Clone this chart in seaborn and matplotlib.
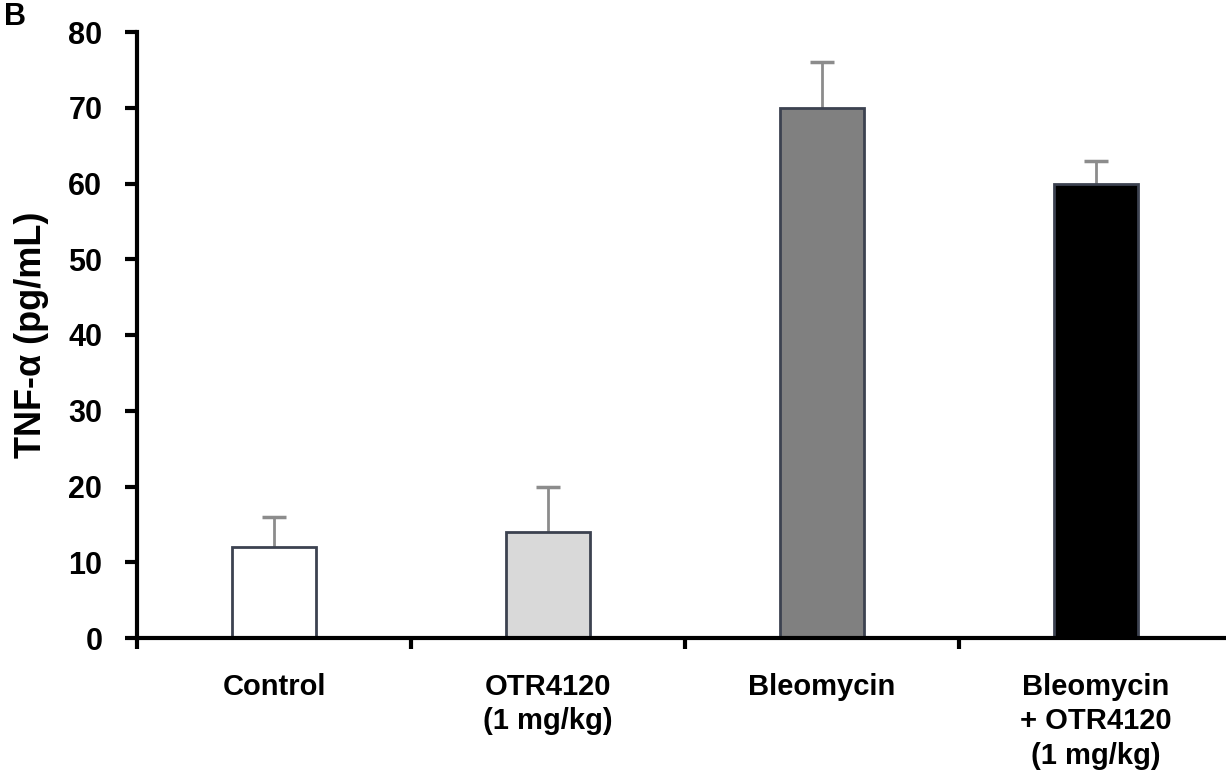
import numpy as np
import pandas as pd
import seaborn as sns
import matplotlib.pyplot as plt
from matplotlib.ticker import FixedLocator

# dados
grupos = ['Control', 'OTR4120\n(1 mg/kg)', 'Bleomycin', 'Bleomycin\n+ OTR4120\n(1 mg/kg)']
medias = [12, 14, 70, 60]
erros = [4, 6, 6, 3]
cores = ['#ffffff', '#d9d9d9', '#808080', '#000000']

sns.set_style('white')
plt.rcParams['font.family'] = ['Liberation Sans', 'DejaVu Sans']
plt.rcParams['font.weight'] = 'bold'
plt.rcParams['text.color'] = 'black'
plt.rcParams['xtick.color'] = 'black'
plt.rcParams['ytick.color'] = 'black'
plt.rcParams['axes.labelcolor'] = 'black'

df = pd.DataFrame({'grupo': grupos, 'tnf': medias})

fig = plt.figure(figsize=(12.26, 7.79), dpi=100)
ax = fig.add_axes([137 / 1226, 1 - 638 / 779, 1096 / 1226, 606 / 779])

sns.barplot(data=df, x='grupo', y='tnf', hue='grupo', palette=cores,
            width=0.31, edgecolor='#3c4250', linewidth=2, legend=False, ax=ax, zorder=2)

# barras de erro só para cima
x = np.arange(len(grupos))
topos = np.array(medias) + np.array(erros)
ax.vlines(x, medias, topos, color='#8c8c8c', linewidth=2, zorder=1)
ax.hlines(topos, x - 0.045, x + 0.045, color='#8c8c8c', linewidth=2.5, zorder=1)

ax.set_ylim(0, 80)
ax.set_xlim(-0.5, len(grupos) - 0.5)
ax.set_yticks(range(0, 81, 10))
ax.tick_params(axis='y', which='major', direction='out', length=9, width=3,
               labelsize=22, pad=16, left=True)
ax.tick_params(axis='x', which='major', length=0, labelsize=21, pad=25)
ax.xaxis.set_minor_locator(FixedLocator(np.arange(-0.5, len(grupos), 1.0)))
ax.tick_params(axis='x', which='minor', direction='out', length=8, width=3, bottom=True)
for lab in ax.get_xticklabels() + ax.get_yticklabels():
    lab.set_fontweight('bold')
for lab in ax.get_xticklabels():
    lab.set_verticalalignment('top')
    lab.set_linespacing(1.3)

ax.set_xlabel('')
ax.set_ylabel('TNF-α (pg/mL)', fontsize=26, fontweight='bold', labelpad=14)

sns.despine(ax=ax)
for lado in ['left', 'bottom']:
    ax.spines[lado].set_linewidth(3)
    ax.spines[lado].set_color('black')

fig.text(4 / 1226, 1 - 2 / 779, 'B', fontsize=22, fontweight='bold', va='top', ha='left')

fig.savefig('out.png', dpi=100)
